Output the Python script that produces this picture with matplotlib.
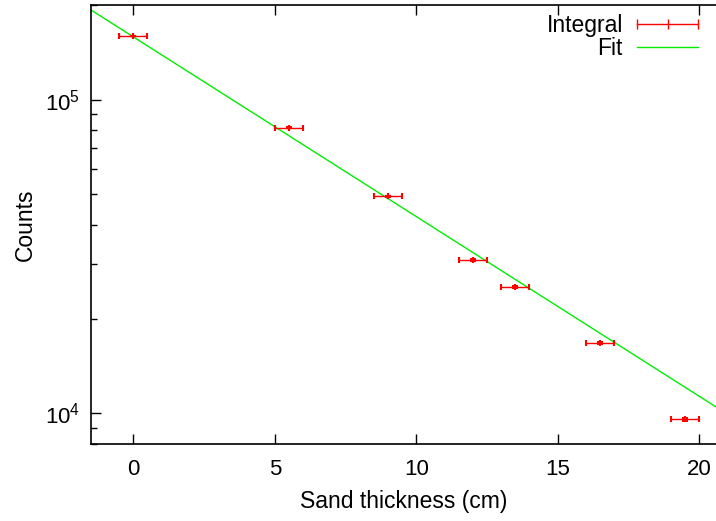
import numpy as np
import matplotlib
matplotlib.use("Agg")
from matplotlib import pyplot as plt
from matplotlib.lines import Line2D
from matplotlib.ticker import LogLocator, FixedLocator, NullFormatter

thickness = [0.0, 5.5, 9.0, 12.0, 13.5, 16.5, 19.5]
thick_err = [0.5, 0.5, 0.5, 0.5, 0.5, 0.5, 0.5]
counts = [159600, 81500, 49200, 30800, 25300, 16800, 9570]
counts_err = [400, 285, 220, 175, 160, 130, 100]

# exponential fit  N = A * exp(-mu * x)
fit_A = 158500.0
fit_mu = 0.1318

plt.rcParams['font.family'] = ['Liberation Sans', 'DejaVu Sans']
plt.rcParams['font.size'] = 16.5
plt.rcParams['mathtext.fontset'] = 'custom'
plt.rcParams['mathtext.rm'] = 'Liberation Sans'
plt.rcParams['mathtext.it'] = 'Liberation Sans'
plt.rcParams['mathtext.bf'] = 'Liberation Sans'

red = '#ff0000'
green = '#00ee00'

fig = plt.figure(figsize=(7.16, 5.21), dpi=100)
ax = fig.add_axes([0.127, 0.148, 0.873, 0.842])

xs = np.linspace(-1.5, 20.6, 200)
ax.errorbar(thickness, counts, xerr=thick_err, yerr=counts_err, fmt='+',
            color=red, ms=4, mew=1.5, lw=1, capsize=2.5, capthick=1, zorder=3)
ax.plot(xs, fit_A * np.exp(-fit_mu * xs), color=green, lw=1)

ax.set_yscale('log')
ax.set_xlim(-1.5, 20.6)
ax.set_ylim(8000, 200000)
ax.xaxis.set_major_locator(FixedLocator([0, 5, 10, 15, 20]))
ax.yaxis.set_major_locator(LogLocator(base=10))
ax.yaxis.set_minor_locator(LogLocator(base=10, subs=np.arange(2, 10)))
ax.yaxis.set_minor_formatter(NullFormatter())

ax.spines['right'].set_visible(False)
ax.tick_params(which='both', direction='in', top=True, right=False, labelsize=16)
ax.tick_params(which='major', length=7, width=1)
ax.tick_params(which='minor', length=4, width=1)
ax.tick_params(axis='x', which='minor', top=False, bottom=False)
ax.tick_params(axis='x', pad=11)
ax.tick_params(axis='y', pad=8)
for s in ax.spines.values():
    s.set_linewidth(1.2)

ax.set_xlabel('Sand thickness (cm)', labelpad=7)
ax.set_ylabel('Counts', labelpad=6)

h_int = Line2D([], [], color=red, lw=1, marker='|', ms=7, mew=1)
h_fit = Line2D([], [], color=green, lw=1)
ax.legend([h_int, h_fit], ['Integral', 'Fit'], loc='upper right',
          bbox_to_anchor=(0.983, 0.981),
          frameon=False, markerfirst=False, numpoints=3, fontsize=16.5,
          handlelength=3.3, handletextpad=0.3, borderaxespad=0,
          borderpad=0, labelspacing=0.02)

fig.savefig('out.png', dpi=100)
